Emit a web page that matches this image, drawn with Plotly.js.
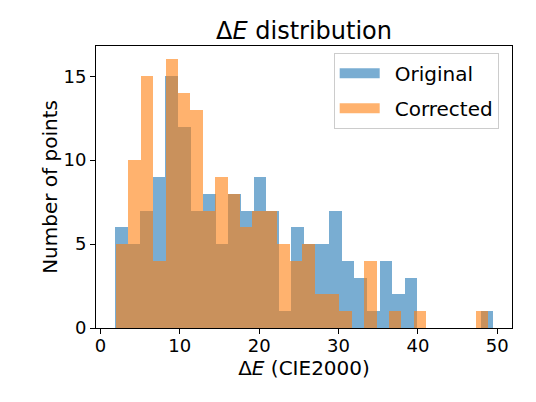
<!DOCTYPE html>
<html>
<head>
<meta charset="utf-8">
<script src="https://cdn.plot.ly/plotly-3.0.1.min.js"></script>
<style>
  html, body { margin: 0; padding: 0; background: #fff; }
  #chart { width: 536px; height: 402px; }
</style>
</head>
<body>
<div id="chart"></div>
<script>
// Histogram counts (30 bins each)
const originalCounts  = [6, 5, 7, 9, 15, 12, 7, 8, 5, 8, 7, 9, 7, 1, 6, 5, 5, 7, 4, 3, 1, 4, 2, 3, 0, 0, 0, 0, 0, 1];
const correctedCounts = [5, 10, 15, 4, 16, 14, 13, 7, 9, 8, 6, 7, 7, 5, 4, 5, 2, 2, 1, 0, 4, 0, 1, 0, 1, 0, 0, 0, 0, 1];
// Bin ranges (ΔE) of each histogram
const originalRange  = [1.83, 49.47];
const correctedRange = [1.98, 48.84];
const seriesNames = ["Original", "Corrected"];
const xTicks = [0, 10, 20, 30, 40, 50];
const yTicks = [0, 5, 10, 15];

function binsOf(counts, range) {
  const w = (range[1] - range[0]) / counts.length;
  return { x: counts.map((_, i) => range[0] + (i + 0.5) * w), w: w };
}
const ob = binsOf(originalCounts, originalRange);
const cb = binsOf(correctedCounts, correctedRange);

const blue = "rgba(31,119,180,0.6)";
const orange = "rgba(255,127,14,0.6)";
const font = "DejaVu Sans, sans-serif";

const traces = [
  { type: "bar", x: ob.x, y: originalCounts, width: ob.w, marker: { color: blue, line: { width: 0 } }, showlegend: false, hoverinfo: "skip" },
  { type: "bar", x: cb.x, y: correctedCounts, width: cb.w, marker: { color: orange, line: { width: 0 } }, showlegend: false, hoverinfo: "skip" },
  { type: "scatter", mode: "lines", x: [null], y: [null], name: "\u2002" + seriesNames[0], line: { color: blue, width: 13 }, legendgroup: "a" },
  { type: "scatter", mode: "lines", x: [null], y: [null], name: "\u2002" + seriesNames[1], line: { color: orange, width: 13 }, legendgroup: "b" }
];

const layout = {
  width: 536, height: 402,
  margin: { l: 96, r: 24, t: 46, b: 73.5, pad: 0 },
  paper_bgcolor: "#fff", plot_bgcolor: "#fff",
  font: { family: font, color: "#000" },
  barmode: "overlay", bargap: 0,
  title: { text: "Δ<i>E</i> distribution", font: { size: 24, family: font, color: "#000" }, x: 0.5, xref: "paper", y: 0.924, yref: "container", yanchor: "middle" },
  xaxis: {
    range: [-0.55, 51.85], tickvals: xTicks, ticktext: xTicks.map(String),
    ticks: "outside", ticklen: 5, tickwidth: 1, tickcolor: "#000",
    showline: true, linecolor: "#000", linewidth: 1, mirror: true,
    showgrid: false, zeroline: false, ticklabelstandoff: -4,
    automargin: true,
    tickfont: { size: 18, family: font, color: "#000" },
    title: { text: "Δ<i>E</i> (CIE2000)", font: { size: 20, family: font, color: "#000" }, standoff: 3 }
  },
  yaxis: {
    range: [0, 16.8], tickvals: yTicks, ticktext: yTicks.map(String),
    ticks: "outside", ticklen: 5, tickwidth: 1, tickcolor: "#000",
    showline: true, linecolor: "#000", linewidth: 1, mirror: true,
    showgrid: false, zeroline: false,
    tickfont: { size: 18, family: font, color: "#000" },
    title: { text: "Number of points", font: { size: 20, family: font, color: "#000" }, standoff: 0 }
  },
  legend: {
    x: 0.968, xanchor: "right", y: 0.976, yanchor: "top",
    bgcolor: "rgba(255,255,255,0.8)", bordercolor: "#cccccc", borderwidth: 1,
    font: { size: 20, family: font, color: "#000" },
    traceorder: "grouped", tracegroupgap: 6, itemwidth: 40
  },
  showlegend: true
};

Plotly.newPlot("chart", traces, layout, { staticPlot: true, displayModeBar: false });
</script>
</body>
</html>
